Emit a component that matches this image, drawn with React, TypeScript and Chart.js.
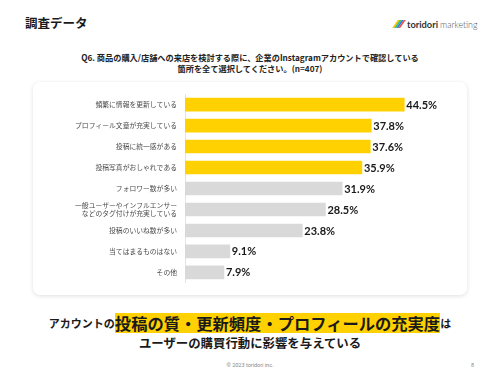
import React, { useEffect, useRef } from "react";
import { Chart, registerables } from "chart.js";

Chart.register(...registerables);

const categories: (string | string[])[] = [
  "頻繁に情報を更新している",
  "プロフィール文章が充実している",
  "投稿に統一感がある",
  "投稿写真がおしゃれである",
  "フォロワー数が多い",
  ["一般ユーザーやインフルエンサー", "などのタグ付けが充実している"],
  "投稿のいいね数が多い",
  "当てはまるものはない",
  "その他",
];
const values: number[] = [44.5, 37.8, 37.6, 35.9, 31.9, 28.5, 23.8, 9.1, 7.9];
const highlighted: boolean[] = [true, true, true, true, false, false, false, false, false];

const YELLOW = "#FFD100";
const GRAY = "#D9D9D9";
const JP = '"Noto Sans CJK JP", "Noto Sans", sans-serif';

const valueLabelPlugin = {
  id: "valueLabels",
  afterDatasetsDraw(chart: any) {
    const ctx = chart.ctx;
    const meta = chart.getDatasetMeta(0);
    ctx.save();
    ctx.font = 'bold 11px Lato, "DejaVu Sans", sans-serif';
    ctx.fillStyle = "#1a1a1a";
    ctx.textAlign = "left";
    ctx.textBaseline = "middle";
    meta.data.forEach((bar: any, i: number) => {
      ctx.fillText(values[i].toFixed(1) + "%", bar.x + 2, bar.y + 0.5);
    });
    ctx.restore();
  },
};

function BarChart() {
  const ref = useRef<HTMLCanvasElement | null>(null);
  useEffect(() => {
    if (!ref.current) return;
    const chart = new Chart(ref.current, {
      type: "bar",
      data: {
        labels: categories,
        datasets: [
          {
            data: values,
            backgroundColor: highlighted.map((h) => (h ? YELLOW : GRAY)),
            barThickness: 13,
            borderWidth: 0,
          },
        ],
      },
      options: {
        indexAxis: "y",
        animation: false,
        responsive: false,
        maintainAspectRatio: false,
        layout: { padding: { top: 12, bottom: 8, left: 0, right: 11 } },
        plugins: { legend: { display: false }, tooltip: { enabled: false } },
        scales: {
          x: { display: false, min: 0, max: 55 },
          y: {
            afterFit: (scale: any) => {
              scale.width = 152;
            },
            grid: { display: true, drawOnChartArea: false, drawTicks: false },
            border: { display: true, color: "#E3E3E3", width: 1 },
            ticks: {
              padding: 8,
              color: "#4a4a4a",
              font: { family: JP, size: 6.8 },
              autoSkip: false,
            },
          },
        },
      },
      plugins: [valueLabelPlugin],
    } as any);
    return () => chart.destroy();
  }, []);
  return <canvas ref={ref} width={434} height={213} style={{ width: 434, height: 213, display: "block" }} />;
}

export default function App() {
  return (
    <div
      style={{
        position: "fixed",
        left: 0,
        top: 0,
        width: 500,
        height: 375,
        background: "#fff",
        fontFamily: JP,
        color: "#1a1a1a",
        overflow: "hidden",
      }}
    >
      <div style={{ position: "absolute", left: 25, top: 14, fontSize: 12.5, fontWeight: 700, lineHeight: "18px" }}>
        調査データ
      </div>
      <div style={{ position: "absolute", left: 395, top: 18, height: 12, display: "flex", alignItems: "center" }}>
        <div style={{ position: "relative", width: 9, height: 8, marginRight: 3 }}>
          {["#F2C200", "#3CBF6B", "#2E7BE0", "#E8544A"].map((c, i) => (
            <div
              key={i}
              style={{
                position: "absolute",
                left: i * 2,
                top: 0,
                width: 1.6,
                height: 8,
                background: c,
                transform: "skewX(-35deg)",
              }}
            />
          ))}
        </div>
        <span style={{ fontFamily: "Lato, sans-serif", fontWeight: 700, fontSize: 9.3, color: "#333" }}>toridori</span>
        <span style={{ fontFamily: "Lato, sans-serif", fontWeight: 300, fontSize: 8.8, color: "#555", marginLeft: 2 }}>
          marketing
        </span>
      </div>
      <div
        style={{
          position: "absolute",
          left: 0,
          width: 500,
          top: 52,
          textAlign: "center",
          fontSize: 8.2,
          fontWeight: 700,
          lineHeight: "11px",
          color: "#222",
        }}
      >
        Q6. 商品の購入/店舗への来店を検討する際に、企業のInstagramアカウントで確認している
        <br />
        箇所を全て選択してください。(n=407)
      </div>
      <div
        style={{
          position: "absolute",
          left: 33,
          top: 82,
          width: 434,
          height: 213,
          background: "#fff",
          borderRadius: 7,
          boxShadow: "0 1px 4px rgba(0,0,0,0.13)",
        }}
      >
        <BarChart />
      </div>
      <div
        style={{
          position: "absolute",
          left: 0,
          width: 500,
          top: 312,
          height: 22,
          display: "flex",
          justifyContent: "center",
          alignItems: "center",
          fontWeight: 700,
          whiteSpace: "nowrap",
        }}
      >
        <span style={{ fontSize: 11 }}>アカウントの</span>
        <span style={{ fontSize: 16.3, background: YELLOW, lineHeight: "20px", padding: "0 0" }}>
          投稿の質・更新頻度・プロフィールの充実度
        </span>
        <span style={{ fontSize: 11 }}>は</span>
      </div>
      <div
        style={{
          position: "absolute",
          left: 0,
          width: 500,
          top: 335,
          textAlign: "center",
          fontSize: 12.4,
          fontWeight: 700,
          lineHeight: "16px",
        }}
      >
        ユーザーの購買行動に影響を与えている
      </div>
      <div
        style={{
          position: "absolute",
          left: 0,
          width: 500,
          top: 361,
          textAlign: "center",
          fontSize: 5.5,
          color: "#888",
          fontFamily: "Roboto, sans-serif",
          lineHeight: "8px",
        }}
      >
        © 2023 toridori inc.
      </div>
      <div
        style={{
          position: "absolute",
          left: 471,
          top: 361,
          fontSize: 5.5,
          color: "#888",
          fontFamily: "Roboto, sans-serif",
          lineHeight: "8px",
        }}
      >
        8
      </div>
    </div>
  );
}
